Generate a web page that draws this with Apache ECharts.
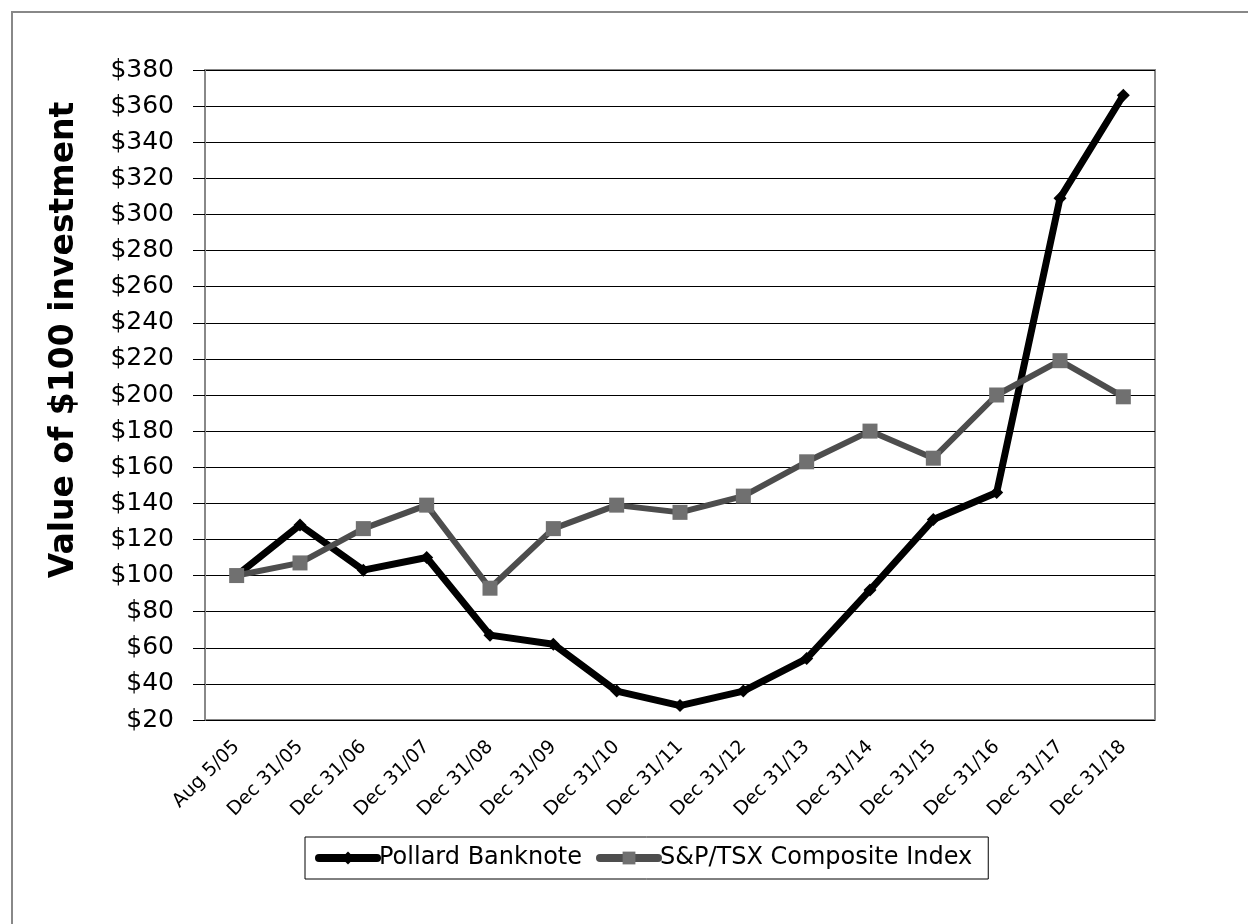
<!DOCTYPE html>
<html><head><meta charset="utf-8">
<script src="https://cdn.jsdelivr.net/npm/echarts@6/dist/echarts.min.js"></script>
<style>
html,body{margin:0;padding:0;background:#fff;overflow:hidden;}
#frame{position:absolute;left:11px;top:11px;width:1260px;height:930px;border:2px solid #888;box-sizing:border-box;}
#c{position:absolute;left:0;top:0;width:1248px;height:924px;}
</style></head><body>
<div id="frame"></div>
<div id="c"></div>
<script>
const categories = ['Aug 5/05','Dec 31/05','Dec 31/06','Dec 31/07','Dec 31/08','Dec 31/09','Dec 31/10','Dec 31/11','Dec 31/12','Dec 31/13','Dec 31/14','Dec 31/15','Dec 31/16','Dec 31/17','Dec 31/18'];
const pollard = [100,128,103,110,67,62,36,28,36,54,92,131,146,309,366];
const tsx = [100,107,126,139,93,126,139,135,144,163,180,165,200,219,199];
const seriesNames = ['Pollard Banknote','S&P/TSX Composite Index'];
const yTitle = 'Value of $100 investment';

const chart = echarts.init(document.getElementById('c'));
chart.setOption({
  animation:false,
  grid:{left:205,right:93,top:70,bottom:204,containLabel:false,show:true,borderColor:'#888',borderWidth:2,backgroundColor:'transparent'},
  graphic:[{
    type:'text',x:64,y:340,rotation:Math.PI/2,
    style:{text:yTitle,fontFamily:'DejaVu Sans',fontWeight:'bold',fontSize:33,fill:'#000',align:'center',verticalAlign:'middle'}
  }],
  legend:{
    top:837,left:305,
    itemWidth:58,itemHeight:16,itemGap:14,
    padding:[9,16,9,10],
    borderColor:'#000',borderWidth:1,
    textStyle:{fontFamily:'DejaVu Sans',fontSize:24,color:'#000',padding:[0,0,0,-3]},
    data:[
      {name:seriesNames[0],lineStyle:{width:8,cap:'round'}},
      {name:seriesNames[1],lineStyle:{width:8,cap:'round'}}
    ]
  },
  xAxis:{
    type:'category',data:categories,boundaryGap:true,
    axisLine:{show:false},
    axisTick:{show:false},
    axisLabel:{rotate:45,fontFamily:'DejaVu Sans',fontSize:19,color:'#000',margin:24,interval:0}
  },
  yAxis:{
    type:'value',min:20,max:380,interval:20,
    axisLine:{show:true,lineStyle:{color:'#888',width:2}},
    axisTick:{show:true,length:12,lineStyle:{color:'#000'}},
    axisLabel:{formatter:v=>'$'+v,fontFamily:'DejaVu Sans',fontSize:25,color:'#000',margin:31},
    splitLine:{lineStyle:{color:'#000',width:1}}
  },
  series:[
    {name:seriesNames[0],type:'line',data:pollard,symbol:'diamond',symbolSize:13,
     lineStyle:{color:'#000',width:7},itemStyle:{color:'#000'}},
    {name:seriesNames[1],type:'line',data:tsx,symbol:'rect',symbolSize:15,
     lineStyle:{color:'#4d4d4d',width:6},itemStyle:{color:'#707070'}}
  ]
});
</script></body></html>
